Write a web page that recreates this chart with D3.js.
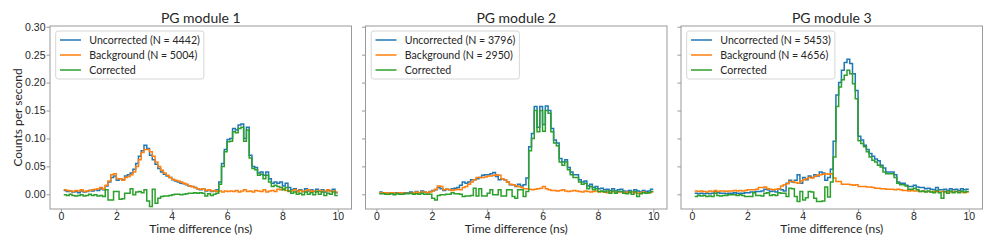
<!DOCTYPE html>
<html>
<head>
<meta charset="utf-8">
<script src="https://cdn.jsdelivr.net/npm/d3@7"></script>
<style>
body { margin: 0; background: #fff; }
svg { display: block; font-family: Lato, "Open Sans", sans-serif; }
</style>
</head>
<body>
<svg id="chart" width="996" height="249"></svg>
<script>
// histogram bins: left edges 0.1, 0.2, ... 9.9 (ns), width 0.1
const binStart = 0.1;
const binWidth = 0.1;
const xTicks = [0, 2, 4, 6, 8, 10];
const yTicks = [0, 0.05, 0.10, 0.15, 0.20, 0.25, 0.30];
const titles = ['PG module 1', 'PG module 2', 'PG module 3'];
const nUncorrected = [4442, 3796, 5453];
const nBackground = [5004, 2950, 4656];

// counts per second, in units of 1e-3
const uncorrected1 = [
	7, 5, 6, 4, 5, 3, 6, 4, 5, 7,
	6, 8, 7, 10, 8, 15, 22, 30, 33, 25,
	28, 26, 33, 35, 38, 45, 55, 68, 78, 88,
	82, 70, 62, 54, 46, 40, 36, 33, 30, 26,
	24, 22, 20, 19, 17, 15, 14, 12, 10, 8,
	10, 6, 8, 5, 6, 8, 22, 55, 80, 98,
	100, 118, 115, 124, 126, 100, 120, 70, 50, 48,
	38, 40, 34, 40, 28, 20, 22, 20, 22, 15,
	20, 12, 8, 10, 6, 8, 5, 10, 6, 8,
	5, 9, 6, 8, 4, 7, 6, 9, 3,
];
const background1 = [
	8, 7, 6, 5, 7, 6, 8, 5, 6, 7,
	8, 9, 10, 12, 9, 16, 24, 35, 37, 28,
	28, 25, 30, 32, 35, 40, 50, 62, 75, 80,
	80, 76, 68, 58, 50, 43, 38, 34, 30, 27,
	25, 24, 22, 20, 18, 15, 14, 12, 10, 9,
	10, 7, 8, 6, 7, 5, 6, 4, 6, 5,
	6, 5, 7, 4, 6, 8, 5, 6, 4, 7,
	6, 5, 8, 4, 6, 7, 5, 9, 8, 10,
	7, 5, 6, 8, 4, 7, 5, 6, 8, 5,
	6, 4, 7, 5, 6, 8, 5, 6, 4,
];
const corrected1 = [
	-1, -2, 0, -2, -3, -2, -1, -3, -2, 0,
	-2, -1, -3, -2, -4, 8, -10, -10, 5, 5,
	-9, -8, 2, 2, 10, -1, 4, 5, 3, 8,
	-12, -22, 9, -16, -7, -4, -3, -3, -2, -1,
	0, 0, -1, 0, 1, 2, 2, 3, 2, 3,
	2, -3, 1, -2, 0, 2, 18, 50, 76, 94,
	95, 112, 110, 118, 120, 95, 115, 65, 46, 44,
	34, 36, 28, 34, 22, 14, 16, 14, 12, 8,
	12, 6, 2, 4, 0, 2, -1, 4, 0, 3,
	-1, 5, 0, 4, -2, 2, 0, 4, -2,
];

const uncorrected2 = [
	4, 3, 3, 2, 3, 2, 3, 3, 2, 3,
	3, 4, 3, 5, 3, 6, 4, 3, 5, 7,
	8, 12, 10, 7, 9, 8, 10, 11, 12, 16,
	22, 20, 22, 26, 26, 28, 30, 34, 35, 35,
	37, 39, 32, 26, 28, 26, 22, 17, 17, 14,
	18, 15, 17, 29, 85, 109, 157, 120, 157, 125,
	158, 150, 118, 97, 92, 64, 58, 62, 48, 40,
	35, 35, 26, 22, 24, 15, 18, 12, 14, 10,
	11, 8, 9, 7, 10, 6, 8, 9, 6, 5,
	7, 5, 8, 6, 4, 7, 5, 6, 9,
];
const background2 = [
	3, 2, 3, 2, 3, 2, 2, 3, 2, 2,
	2, 2, 3, 4, 3, 4, 4, 3, 4, 6,
	9, 15, 14, 8, 9, 8, 7, 8, 9, 8,
	12, 14, 18, 22, 26, 30, 30, 30, 31, 33,
	33, 34, 35, 34, 28, 26, 22, 18, 17, 15,
	14, 12, 10, 10, 9, 8, 9, 10, 11, 14,
	10, 8, 7, 7, 6, 7, 8, 6, 5, 6,
	7, 6, 5, 4, 6, 5, 4, 5, 6, 4,
	5, 4, 3, 4, 5, 3, 4, 4, 3, 4,
	3, 4, 3, 2, 3, 4, 3, 3, 4,
];
const corrected2 = [
	1, 1, 0, 0, 1, -1, 1, 0, 0, 1,
	1, 2, 0, 1, 0, 2, 0, 0, 0, -7,
	-10, -2, -1, -1, 0, 0, 3, 1, 1, 0,
	-4, -3, -3, -2, 11, -3, 10, -3, -3, 2,
	8, -1, -1, 8, -3, -3, 8, 8, -4, -7,
	8, 8, -4, 5, 78, 100, 150, 112, 150, 113,
	150, 145, 112, 92, 87, 58, 52, 58, 44, 35,
	30, 30, 22, 18, 20, 10, 14, 8, 10, 5,
	6, 4, 6, 2, 6, 2, 5, 5, 2, 1,
	4, 0, 5, -4, 1, 3, 2, 3, 5,
];

const uncorrected3 = [
	2, 1, 2, 1, 2, 1, 2, 5, 3, 2,
	2, 1, 2, 2, 3, 2, 2, 2, 3, 3,
	4, 4, 5, 5, 6, 9, 8, 5, 6, 4,
	10, 8, 6, 20, 25, 22, 25, 35, 20, 30,
	26, 33, 30, 35, 33, 40, 38, 25, 30, 45,
	95, 178, 200, 222, 236, 242, 234, 216, 186, 104,
	97, 88, 80, 73, 68, 63, 60, 52, 47, 40,
	40, 40, 35, 22, 20, 20, 16, 14, 14, 16,
	13, 12, 12, 10, 11, 9, 8, 12, 8, 8,
	9, 7, 10, 8, 9, 7, 10, 8, 9,
];
const background3 = [
	6, 5, 6, 5, 4, 6, 5, 7, 5, 6,
	6, 5, 6, 6, 7, 6, 7, 6, 7, 8,
	8, 8, 9, 12, 12, 13, 10, 9, 8, 9,
	10, 15, 17, 19, 23, 23, 21, 20, 24, 26,
	28, 30, 29, 32, 34, 35, 36, 37, 36, 37,
	29, 23, 23, 18, 18, 18, 17, 16, 17, 14,
	14, 14, 13, 13, 12, 11, 11, 10, 10, 9,
	9, 9, 8, 9, 8, 7, 7, 6, 7, 6,
	6, 5, 6, 5, 5, 4, 5, 5, 4, 5,
	4, 5, 4, 4, 5, 4, 4, 3, 4,
];
const corrected3 = [
	-4, -2, -3, -2, -4, -3, -4, 2, -2, -3,
	-2, -2, -1, -1, -1, -2, -1, -2, -4, -4,
	-4, 3, -2, -2, -3, 2, 3, -2, -1, -2,
	3, 2, 2, -4, 11, 10, -4, -13, 5, -10,
	-6, 5, 4, -7, -13, -13, -12, 13, -5, 22,
	67, 157, 192, 205, 213, 222, 216, 198, 171, 96,
	91, 85, 76, 67, 61, 58, 52, 49, 40, 37,
	37, 37, 30, 20, 17, 17, 15, 9, 9, 11,
	8, 5, 6, 4, 6, 4, 3, 7, 3, -7,
	5, 2, 6, 3, 5, 3, 6, 4, 5,
];

const panels = [
	[uncorrected1, background1, corrected1],
	[uncorrected2, background2, corrected2],
	[uncorrected3, background3, corrected3],
];

const colors = ['#1f77b4', '#ff7f0e', '#2ca02c'];
const spine = '#999999';
const ink = '#262626';

const axLeft = [50, 365.5, 681];
const axWidth = 301.5;
const axTop = 26;
const axBottom = 209;

const svg = d3.select('#chart');

const yScale = d3.scaleLinear([-0.0263, 0.3013], [axBottom, axTop]);

// outline of a step histogram: one point per left edge, plus the last right edge
function stepPoints(vals) {
	const pts = vals.map((v, i) => [binStart + i * binWidth, v / 1000]);
	pts.push([binStart + vals.length * binWidth, vals[vals.length - 1] / 1000]);
	return pts;
}

panels.forEach((series, p) => {
	const left = axLeft[p];
	const xScale = d3.scaleLinear([-0.395, 10.495], [left, left + axWidth]);
	const g = svg.append('g');

	const xAxis = d3.axisBottom(xScale).tickValues(xTicks).tickSize(3.5).tickPadding(0);
	const yAxis = d3.axisLeft(yScale).tickValues(yTicks).tickSize(3.5).tickPadding(1)
		.tickFormat(p === 0 ? d3.format('.2f') : () => '');

	g.append('g')
		.attr('transform', `translate(0,${axBottom})`)
		.call(xAxis)
		.call(a => a.select('.domain').remove())
		.call(a => a.selectAll('.tick line').attr('stroke', spine))
		.call(a => a.selectAll('.tick text').attr('fill', ink).attr('font-size', 10.5).attr('font-family', null));

	g.append('g')
		.attr('transform', `translate(${left},0)`)
		.call(yAxis)
		.call(a => a.select('.domain').remove())
		.call(a => a.selectAll('.tick line').attr('stroke', spine))
		.call(a => a.selectAll('.tick text').attr('fill', ink).attr('font-size', 10.5).attr('font-family', null));

	const line = d3.line()
		.curve(d3.curveStepAfter)
		.x(d => xScale(d[0]))
		.y(d => yScale(d[1]));

	series.forEach((vals, k) => {
		g.append('path')
			.attr('fill', 'none')
			.attr('stroke', colors[k])
			.attr('stroke-width', 1.5)
			.attr('d', line(stepPoints(vals)));
	});

	g.append('rect')
		.attr('x', left)
		.attr('y', axTop)
		.attr('width', axWidth)
		.attr('height', axBottom - axTop)
		.attr('fill', 'none')
		.attr('stroke', spine)
		.attr('stroke-width', 1);

	g.append('text')
		.attr('x', left + axWidth / 2)
		.attr('y', 23)
		.attr('text-anchor', 'middle')
		.attr('font-size', 14)
		.attr('fill', ink)
		.text(titles[p]);

	g.append('text')
		.attr('x', left + axWidth / 2)
		.attr('y', 233)
		.attr('text-anchor', 'middle')
		.attr('font-size', 12)
		.attr('fill', ink)
		.text('Time difference (ns)');

	// legend
	const labels = [
		`Uncorrected (N = ${nUncorrected[p]})`,
		`Background (N = ${nBackground[p]})`,
		'Corrected',
	];
	const lx = left + 5.7;
	const ly = 31;
	const leg = g.append('g');
	const box = leg.append('rect')
		.attr('x', lx)
		.attr('y', ly)
		.attr('height', 48)
		.attr('rx', 2.5)
		.attr('fill', '#fff')
		.attr('fill-opacity', 0.8)
		.attr('stroke', '#d6d6d6')
		.attr('stroke-width', 1);
	let maxW = 0;
	labels.forEach((t, k) => {
		const y = ly + 9 + k * 15;
		leg.append('line')
			.attr('x1', lx + 4.3)
			.attr('x2', lx + 25.3)
			.attr('y1', y)
			.attr('y2', y)
			.attr('stroke', colors[k])
			.attr('stroke-width', 1.5);
		const tx = leg.append('text')
			.attr('x', lx + 33.6)
			.attr('y', y)
			.attr('dy', '0.35em')
			.attr('font-size', 10.6)
			.attr('fill', ink)
			.text(t);
		maxW = Math.max(maxW, tx.node().getComputedTextLength());
	});
	box.attr('width', 33.6 + maxW + 4);
});

svg.append('text')
	.attr('transform', `translate(21.5,${(axTop + axBottom) / 2}) rotate(-90)`)
	.attr('text-anchor', 'middle')
	.attr('font-size', 12)
	.attr('fill', ink)
	.text('Counts per second');
</script>
</body>
</html>
